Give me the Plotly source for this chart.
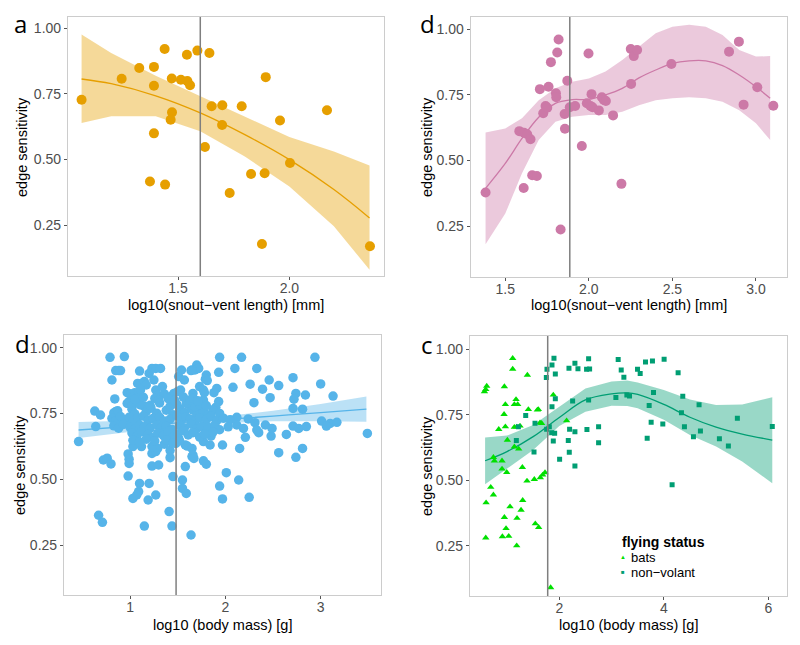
import plotly.graph_objects as go

FONT = "Liberation Sans, Arial, sans-serif"

# ---- panel a: snout-vent length (orange) ----
svl_a_x = [1.067, 1.247, 1.326, 1.392, 1.392, 1.392, 1.374, 1.440, 1.442, 1.472, 1.473, 1.467,
           1.513, 1.542, 1.554, 1.540, 1.587, 1.641, 1.621, 1.651, 1.699, 1.698, 1.732, 1.786,
           1.828, 1.877, 1.889, 1.894, 1.958, 2.003, 2.169, 2.362]
svl_a_y = [0.727, 0.807, 0.848, 0.852, 0.780, 0.599, 0.416, 0.920, 0.404, 0.808, 0.679, 0.651,
           0.803, 0.798, 0.782, 0.898, 0.914, 0.905, 0.547, 0.702, 0.706, 0.631, 0.372, 0.702,
           0.444, 0.178, 0.447, 0.813, 0.648, 0.486, 0.687, 0.169]
fit_a_x = [1.067, 1.2, 1.4, 1.6, 1.8, 2.0, 2.2, 2.36]
fit_a_y = [0.806, 0.788, 0.742, 0.677, 0.594, 0.499, 0.385, 0.277]
fit_a_hi = [0.975, 0.905, 0.818, 0.740, 0.664, 0.585, 0.530, 0.477]
fit_a_lo = [0.638, 0.664, 0.664, 0.607, 0.511, 0.397, 0.245, 0.080]

# ---- panel b: snout-vent length (pink) ----
svl_b_x = [1.382, 1.584, 1.612, 1.631, 1.651, 1.610, 1.661, 1.689, 1.707, 1.727, 1.741, 1.751,
           1.759, 1.773, 1.803, 1.805, 1.811, 1.819, 1.831, 1.855, 1.857, 1.871, 1.886, 1.918,
           1.958, 1.988, 1.998, 2.016, 2.010, 2.022, 2.060, 2.078, 2.090, 2.102, 2.145, 2.195,
           2.251, 2.269, 2.289, 2.253, 2.494, 2.839, 2.898, 2.926, 3.008, 3.104]
svl_b_y = [0.378, 0.612, 0.606, 0.600, 0.581, 0.395, 0.444, 0.441, 0.772, 0.680, 0.708, 0.701,
           0.781, 0.875, 0.756, 0.741, 0.912, 0.961, 0.237, 0.677, 0.621, 0.804, 0.703, 0.708,
           0.555, 0.718, 0.908, 0.753, 0.708, 0.703, 0.691, 0.741, 0.731, 0.727, 0.672, 0.411,
           0.925, 0.898, 0.921, 0.792, 0.868, 0.915, 0.953, 0.713, 0.779, 0.709]
fit_b_x = [1.382, 1.5, 1.6, 1.7, 1.8, 1.9, 2.0, 2.1, 2.2, 2.3, 2.4, 2.5, 2.6, 2.7, 2.8, 2.9, 3.0, 3.085]
fit_b_y = [0.394, 0.489, 0.584, 0.665, 0.718, 0.732, 0.733, 0.750, 0.775, 0.815, 0.845, 0.870,
           0.880, 0.880, 0.862, 0.826, 0.781, 0.737]
fit_b_hi = [0.607, 0.622, 0.661, 0.730, 0.775, 0.800, 0.813, 0.839, 0.883, 0.934, 0.985, 1.010,
            1.017, 1.010, 0.978, 0.921, 0.896, 0.898]
fit_b_lo = [0.181, 0.298, 0.451, 0.578, 0.648, 0.667, 0.673, 0.673, 0.686, 0.711, 0.730, 0.737,
            0.741, 0.737, 0.724, 0.692, 0.642, 0.578]

# ---- panel c: body mass (blue) ----
mass_c_x = [
    0.46, 0.63, 0.69, 0.64, 0.67, 0.71, 0.72, 0.76, 0.80, 0.79, 0.94, 0.85, 0.88, 0.90, 0.81,
    0.84, 0.85, 0.98, 0.99, 0.99, 1.03, 1.12, 0.98, 1.10, 1.20, 1.09, 1.07, 1.03, 1.19, 1.27,
    1.15, 1.41, 1.44, 1.23, 1.30, 1.23, 1.27, 1.29, 1.23, 1.36, 1.42, 1.42, 1.45, 1.55, 1.55,
    1.59, 1.58, 1.64, 1.43, 1.48, 1.51, 1.58, 1.60, 1.65, 1.65, 3.49, 2.81, 2.74, 2.56, 2.64,
    2.48, 2.35, 2.21, 2.15, 1.97, 2.01, 2.14, 1.94, 1.97, 2.25, 1.77, 1.80, 1.66, 1.67, 1.77,
    1.84, 1.85, 1.80, 1.94, 2.17, 2.94, 2.10, 2.33, 1.70, 1.68, 1.72, 1.65, 1.93, 1.80, 1.79,
    1.81, 1.73, 1.77, 1.78, 1.91, 1.88, 2.08, 2.26, 2.39, 2.46, 2.56, 2.71, 3.00, 2.74, 2.72,
    2.84, 3.13, 2.47, 2.30, 1.93, 1.90, 2.71, 2.81, 3.01, 3.10, 3.17, 3.06, 2.12, 2.24, 2.31,
    2.42, 2.49, 2.71, 2.77, 2.85, 2.12, 2.19, 2.33, 1.66, 1.77, 1.73, 1.66, 1.10, 1.20, 1.23,
    1.27, 1.32, 1.25, 1.08, 1.12, 1.15, 1.17, 0.97, 1.01, 1.05, 1.09, 1.11, 0.99, 0.97, 1.08,
    1.11, 1.15, 1.27, 1.29, 1.34, 1.36, 1.26, 1.30, 1.43, 1.46, 1.50, 1.53, 1.54, 1.51, 1.64,
    1.57,
    0.83, 0.87, 1.02, 1.05, 1.17, 1.22, 1.28, 1.38, 1.45, 1.52, 1.57, 1.64, 1.70, 1.77, 1.82,
    1.87, 1.94,
    0.81, 0.85, 0.90, 0.95, 0.99, 1.03, 1.08, 1.14, 1.19, 1.24, 1.31, 1.36, 1.42, 1.49, 1.54,
    1.59, 1.63, 1.68, 1.73, 1.80, 1.85, 1.91, 1.98, 2.05,
    0.83, 0.88, 0.93, 1.00, 1.05, 1.10, 1.15, 1.21, 1.28, 1.33, 1.38, 1.44, 1.52, 1.57, 1.64,
    1.70, 1.75, 1.82, 1.89, 1.94, 2.03,
    1.02, 1.07, 1.12, 1.19, 1.24, 1.29, 1.35, 1.40, 1.45, 1.50, 1.56, 1.61, 1.66, 1.73, 1.78,
    1.87,
    1.02, 1.10, 1.21, 1.31, 1.42, 1.49, 1.59, 1.68, 1.73, 1.80,
    1.05, 1.14, 1.40, 1.47, 1.56, 1.63, 1.66, 1.71,
    1.03, 1.10, 1.17, 1.26, 1.38, 1.45, 1.52,
]
mass_c_y = [
    0.643, 0.759, 0.744, 0.700, 0.363, 0.336, 0.573, 0.580, 0.558, 0.963, 0.966, 0.913, 0.913, 0.913, 0.877,
    0.805, 0.757, 0.596, 0.576, 0.560, 0.624, 0.624, 0.512, 0.484, 0.484, 0.453, 0.440, 0.427, 0.421, 0.440,
    0.322, 0.377, 0.322, 0.550, 0.554, 0.598, 0.605, 0.617, 0.624, 0.633, 0.609, 0.582, 0.510, 0.497, 0.465,
    0.446, 0.548, 0.288, 0.643, 0.636, 0.655, 0.630, 0.626, 0.617, 0.586, 0.674, 0.617, 0.583, 0.601, 0.670,
    0.664, 0.677, 0.659, 0.617, 0.630, 0.525, 0.497, 0.474, 0.425, 0.431, 0.570, 0.557, 0.592, 0.579, 0.643,
    0.630, 0.664, 0.674, 0.963, 0.963, 0.963, 0.921, 0.921, 0.934, 0.915, 0.921, 0.915, 0.906, 0.896, 0.880,
    0.875, 0.852, 0.839, 0.829, 0.845, 0.829, 0.849, 0.861, 0.842, 0.877, 0.856, 0.886, 0.862, 0.826, 0.804,
    0.820, 0.816, 0.810, 0.791, 0.795, 0.773, 0.769, 0.766, 0.721, 0.712, 0.716, 0.702, 0.735, 0.729, 0.715,
    0.706, 0.693, 0.702, 0.693, 0.700, 0.706, 0.693, 0.687, 0.826, 0.801, 0.776, 0.763, 0.911, 0.902, 0.921,
    0.921, 0.921, 0.877, 0.864, 0.864, 0.871, 0.858, 0.829, 0.824, 0.829, 0.829, 0.839, 0.795, 0.788, 0.791,
    0.782, 0.778, 0.839, 0.820, 0.852, 0.824, 0.807, 0.801, 0.814, 0.826, 0.833, 0.839, 0.915, 0.890, 0.913,
    0.877,
    0.752, 0.760, 0.766, 0.748, 0.757, 0.770, 0.751, 0.762, 0.745, 0.768, 0.754, 0.772, 0.749, 0.758, 0.744,
    0.763, 0.750,
    0.731, 0.722, 0.738, 0.726, 0.735, 0.719, 0.733, 0.740, 0.724, 0.731, 0.736, 0.721, 0.728, 0.742, 0.725,
    0.737, 0.729, 0.720, 0.734, 0.727, 0.739, 0.723, 0.732, 0.726,
    0.703, 0.694, 0.708, 0.697, 0.690, 0.705, 0.699, 0.693, 0.707, 0.696, 0.701, 0.689, 0.704, 0.695, 0.709,
    0.692, 0.700, 0.697, 0.706, 0.688, 0.699,
    0.676, 0.664, 0.680, 0.670, 0.658, 0.675, 0.666, 0.681, 0.661, 0.672, 0.684, 0.668, 0.677, 0.660, 0.671,
    0.679,
    0.779, 0.786, 0.781, 0.790, 0.777, 0.784, 0.788, 0.776, 0.783, 0.780,
    0.803, 0.811, 0.806, 0.799, 0.812, 0.801, 0.808, 0.798,
    0.648, 0.641, 0.652, 0.645, 0.650, 0.638, 0.646,
]
fit_c_x = [0.46, 1.0, 1.5, 1.75, 2.0, 2.5, 3.0, 3.48]
fit_c_y = [0.687, 0.701, 0.714, 0.721, 0.727, 0.740, 0.753, 0.766]
fit_c_hi = [0.717, 0.721, 0.727, 0.733, 0.740, 0.760, 0.786, 0.814]
fit_c_lo = [0.657, 0.681, 0.701, 0.709, 0.714, 0.720, 0.720, 0.718]

# ---- panel d: body mass by flying status ----
bats_x = [1.108, 1.108, 1.389, 0.611, 0.592, 0.567, 0.949, 1.172, 1.140, 1.204, 0.968, 0.943,
          1.408, 1.599, 1.580, 0.841, 0.968, 1.140, 1.185, 1.248, 1.631, 1.662, 1.006, 1.140,
          1.223, 0.739, 0.758, 0.904, 0.904, 0.994, 1.293, 1.382, 1.522, 1.637, 1.682, 1.726,
          0.688, 0.739, 0.599, 1.057, 1.299, 1.268, 0.949, 1.191, 0.981, 1.541, 1.605, 0.592,
          0.911, 1.032, 1.185, 1.834, 1.885, 2.140]
bats_y = [0.966, 0.925, 0.902, 0.860, 0.847, 0.839, 0.858, 0.809, 0.790, 0.790, 0.790, 0.752,
          0.771, 0.771, 0.769, 0.695, 0.705, 0.703, 0.704, 0.708, 0.720, 0.718, 0.654, 0.628,
          0.620, 0.588, 0.575, 0.575, 0.544, 0.531, 0.550, 0.498, 0.504, 0.511, 0.521, 0.530,
          0.474, 0.445, 0.415, 0.400, 0.424, 0.387, 0.359, 0.356, 0.317, 0.335, 0.321, 0.281,
          0.286, 0.287, 0.251, 0.091, 0.826, 0.728]
nonvol_x = [1.898, 1.860, 1.924, 1.764, 1.752, 1.924, 1.860, 1.357, 1.535, 1.809, 1.758, 1.854,
            1.911, 1.885, 2.006, 1.516, 1.178, 1.217, 2.561, 2.299, 2.185, 2.357, 2.522, 2.580,
            3.127, 3.185, 3.236, 3.650, 3.783, 4.006, 3.497, 3.548, 4.274, 2.255, 2.561, 3.083,
            3.293, 3.344, 3.803, 3.720, 4.363, 4.675, 4.338, 5.408, 6.076, 2.197, 2.299, 2.529,
            2.752, 2.172, 2.752, 2.191, 2.299, 3.758, 3.981, 3.682, 4.395, 4.701, 4.567, 5.064,
            5.236, 4.159]
nonvol_y = [0.966, 0.940, 0.906, 0.924, 0.893, 0.812, 0.781, 0.748, 0.718, 0.705, 0.695, 0.682,
            0.680, 0.650, 0.581, 0.608, 0.652, 0.705, 0.964, 0.947, 0.928, 0.926, 0.924, 0.925,
            0.961, 0.921, 0.894, 0.952, 0.956, 0.962, 0.924, 0.908, 0.911, 0.803, 0.807, 0.816,
            0.826, 0.822, 0.835, 0.786, 0.821, 0.789, 0.758, 0.737, 0.706, 0.695, 0.686, 0.694,
            0.705, 0.652, 0.644, 0.607, 0.555, 0.722, 0.715, 0.661, 0.705, 0.689, 0.667, 0.659,
            0.631, 0.483]
fit_d_x = [0.58, 1.0, 1.5, 2.0, 2.5, 3.0, 3.3, 3.5, 4.0, 4.5, 5.0, 5.5, 6.076]
fit_d_y = [0.575, 0.610, 0.667, 0.740, 0.807, 0.830, 0.834, 0.828, 0.790, 0.741, 0.703, 0.677, 0.654]
fit_d_hi = [0.664, 0.671, 0.711, 0.781, 0.851, 0.877, 0.881, 0.874, 0.845, 0.809, 0.788, 0.790, 0.817]
fit_d_lo = [0.485, 0.546, 0.616, 0.708, 0.762, 0.785, 0.784, 0.775, 0.731, 0.673, 0.629, 0.572, 0.489]

# thresholds (vertical lines) per panel
vline_x = [1.6, 1.886, 1.483, 1.778]

ORANGE, PINK, BLUE, TEAL, LIME = "#E69F00", "#CC79A7", "#56B4E9", "#009E73", "#00E000"

# the page body has an 8px margin, so the figure is drawn 8px in from the corner
OX, OY = 8, 8
W, H = 800 - OX, 645 - OY


def fx(px):
    return (px - OX) / W


def fy(py):
    return 1 - (py - OY) / H


def rgba(hex_col, a):
    h = hex_col.lstrip("#")
    r, g, b = int(h[0:2], 16), int(h[2:4], 16), int(h[4:6], 16)
    return f"rgba({r},{g},{b},{a})"


fig = go.Figure()


def add_smooth(xs, ys, hi, lo, col, ax):
    xa, ya = ("x", "y") if ax == 1 else (f"x{ax}", f"y{ax}")
    fig.add_trace(go.Scatter(x=xs + xs[::-1], y=hi + lo[::-1], fill="toself",
                             fillcolor=rgba(col, 0.4), line=dict(width=0),
                             mode="lines", hoverinfo="skip", showlegend=False,
                             xaxis=xa, yaxis=ya))
    fig.add_trace(go.Scatter(x=xs, y=ys, mode="lines", line=dict(color=col, width=1.3, shape="spline"),
                             showlegend=False, xaxis=xa, yaxis=ya))


def add_points(xs, ys, col, ax, size=10, symbol="circle"):
    xa, ya = ("x", "y") if ax == 1 else (f"x{ax}", f"y{ax}")
    fig.add_trace(go.Scatter(x=xs, y=ys, mode="markers",
                             marker=dict(color=col, size=size, symbol=symbol, line=dict(width=0)),
                             showlegend=False, xaxis=xa, yaxis=ya))


add_smooth(fit_a_x, fit_a_y, fit_a_hi, fit_a_lo, ORANGE, 1)
add_points(svl_a_x, svl_a_y, ORANGE, 1)
add_smooth(fit_b_x, fit_b_y, fit_b_hi, fit_b_lo, PINK, 2)
add_points(svl_b_x, svl_b_y, PINK, 2)
add_smooth(fit_c_x, fit_c_y, fit_c_hi, fit_c_lo, BLUE, 3)
add_points(mass_c_x, mass_c_y, BLUE, 3, size=9.5)
add_smooth(fit_d_x, fit_d_y, fit_d_hi, fit_d_lo, TEAL, 4)
add_points(bats_x, bats_y, LIME, 4, size=6.5, symbol="triangle-up")
add_points(nonvol_x, nonvol_y, TEAL, 4, size=5, symbol="square")


def axis(rng, vals, text, dom, anchor, standoff=0):
    return dict(range=rng, domain=dom, anchor=anchor, tickvals=vals, ticktext=text,
                showgrid=False, zeroline=False, showline=True, mirror=True,
                linecolor="#cccccc", linewidth=1.2, ticks="outside", ticklen=3,
                tickcolor="#555555", tickwidth=1, ticklabelstandoff=standoff,
                tickfont=dict(family=FONT, size=14, color="#4d4d4d"))


y_ticks = [0.25, 0.50, 0.75, 1.00]
y_text = ["0.25", "0.50", "0.75", "1.00"]

fig.update_layout(
    width=W, height=H, margin=dict(l=0, r=0, t=0, b=0),
    paper_bgcolor="white", plot_bgcolor="white",
    xaxis=axis([1.006, 2.425], [1.5, 2.0], ["1.5", "2.0"], [fx(68), fx(384)], "y", -4),
    yaxis=axis([0.056, 1.042], y_ticks, y_text, [fy(276), fy(17)], "x"),
    xaxis2=axis([1.293, 3.184], [1.5, 2.0, 2.5, 3.0], ["1.5", "2.0", "2.5", "3.0"],
                [fx(470.7), fx(786.7)], "y2", -4),
    yaxis2=axis([0.056, 1.047], y_ticks, y_text, [fy(277), fy(17)], "x2"),
    xaxis3=axis([0.307, 3.63], [1, 2, 3], ["1", "2", "3"], [fx(64), fx(380.7)], "y3", -4),
    yaxis3=axis([0.060, 1.048], y_ticks, y_text, [fy(595), fy(335)], "x3"),
    xaxis4=axis([0.291, 6.352], [2, 4, 6], ["2", "4", "6"], [fx(470), fx(786.7)], "y4", -4),
    yaxis4=axis([0.059, 1.051], y_ticks, y_text, [fy(596), fy(336)], "x4"),
)

# vertical threshold lines
for i, vx in enumerate(vline_x):
    sfx = "" if i == 0 else str(i + 1)
    fig.add_shape(type="line", xref=f"x{sfx}", yref=f"y{sfx} domain", x0=vx, x1=vx, y0=0, y1=1,
                  line=dict(color="#7f7f7f", width=1.5))


def txt(s, x, y, size=14.5, angle=0, bold=False, color="black", xanchor="center", family=FONT):
    fig.add_annotation(text=f"<b>{s}</b>" if bold else s, x=fx(x), y=fy(y),
                       xref="paper", yref="paper", showarrow=False, textangle=angle,
                       xanchor=xanchor, yanchor="middle",
                       font=dict(family=family, size=size, color=color))


# axis titles
txt("log10(snout\u2212vent length) [mm]", 226, 305)
txt("log10(snout\u2212vent length) [mm]", 629, 305)
txt("log10 (body mass) [g]", 222, 625)
txt("log10 (body mass) [g]", 628, 625)
txt("edge sensitivity", 22, 147, angle=-90)
txt("edge sensitivity", 427, 147, angle=-90)
txt("edge sensitivity", 20, 465, angle=-90)
txt("edge sensitivity", 427, 466, angle=-90)

# panel letters
for lab, px_, py_ in [("a", 20, 23), ("d", 427, 23), ("d", 22, 343), ("c", 427, 344)]:
    txt(lab, px_, py_, size=24, family="Open Sans, sans-serif")

# legend for flying status
txt("flying status", 620, 542, size=14, bold=True, xanchor="left")
txt("\u25b2", 623, 557, size=6, color=LIME)
txt("bats", 629, 557, size=13, xanchor="left")
txt("\u25a0", 623, 572, size=6, color=TEAL)
txt("non\u2212volant", 629, 572, size=13, xanchor="left")

fig.write_html("out.html")
